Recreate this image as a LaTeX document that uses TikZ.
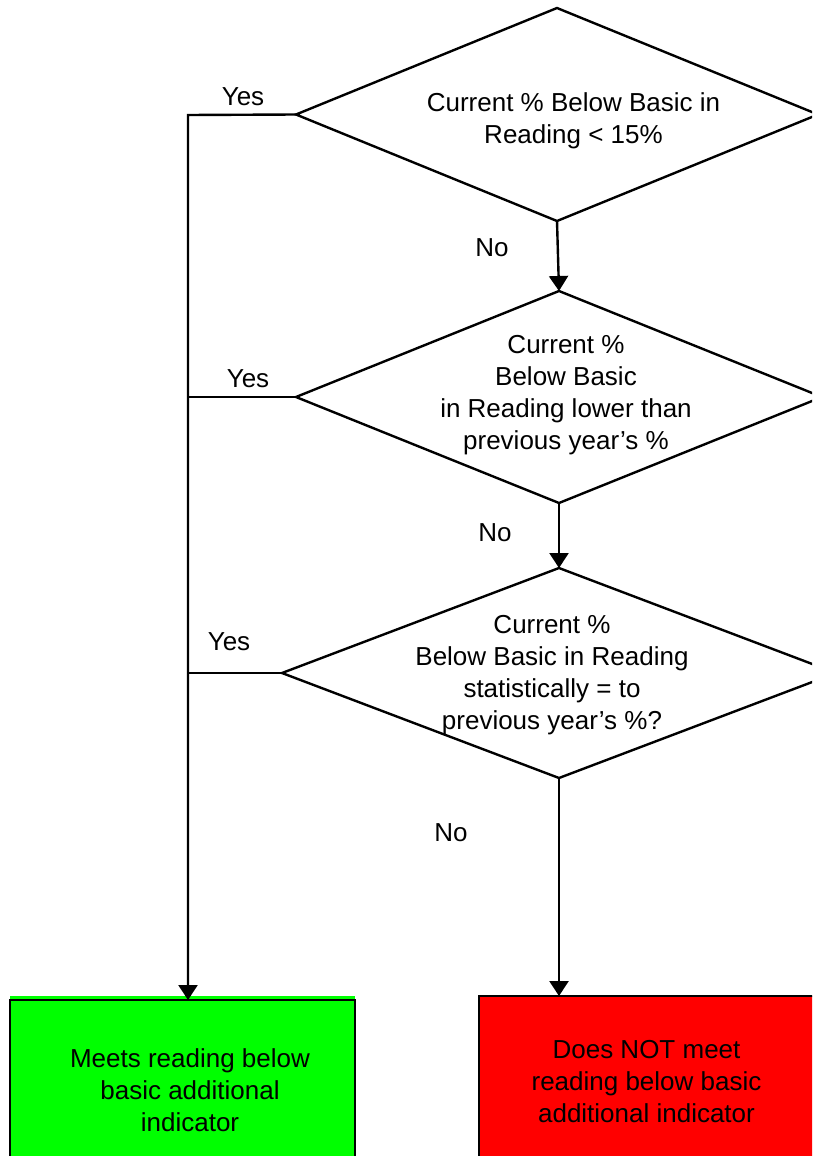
\documentclass[tikz,border=0pt]{standalone}
\usepackage{fontspec}
\setmainfont{Liberation Sans}
\usetikzlibrary{shapes.geometric,arrows.meta}
\definecolor{meetgreen}{RGB}{0,255,0}
\definecolor{failred}{RGB}{255,0,0}
\begin{document}
\begin{tikzpicture}[x=1pt,y=-1pt,
  every node/.style={font=\fontsize{26}{32}\selectfont},
  decision/.style={draw,diamond,line width=2.4pt,inner sep=0pt,outer sep=0pt},
  txt/.style={align=center,inner sep=0pt},
  result/.style={draw,rectangle,line width=2.4pt,inner sep=0pt,outer sep=0pt,align=center},
  link/.style={line width=2.4pt},
  flow/.style={line width=2.4pt,-{Triangle[width=19pt,length=15pt]}}]
\clip (0,0) rectangle (812,1156);
\useasboundingbox (0,0) rectangle (812,1156);
\node[decision,minimum width=522,minimum height=213] (ask1) at (557,114.5) {};
\node[txt] (ask1text) at (573.5,121) {Current \% Below Basic in\\Reading < 15\%};
\node[decision,minimum width=526,minimum height=212] (ask2) at (559,397) {};
\node[txt] (ask2text) at (566,395) {Current \%\\Below Basic\\in Reading lower than\\previous year's \%};
\node[decision,minimum width=554,minimum height=210] (ask3) at (559,673) {};
\node[txt] (ask3text) at (552,675) {Current \%\\Below Basic in Reading\\statistically = to\\previous year's \%?};
\fill[meetgreen] (10,996) rectangle (355,1001);
\node[result,fill=meetgreen,minimum width=345,minimum height=180] (meets) at (182.5,1090) {};
\node[txt] (meetstext) at (190,1090) {Meets reading below\\basic additional\\indicator};
\node[result,fill=failred,minimum width=335,minimum height=172] (notmeet) at (646.5,1082) {Does NOT meet\\reading below basic\\additional indicator};
\coordinate (bus) at (188,115);
\draw[flow] (ask1.west) -- (bus) -- (bus |- meets.north);
\draw[link] (ask2.west) -- (bus |- ask2.west);
\draw[link] (ask3.west) -- (bus |- ask3.west);
\draw[flow] (ask1.south) -- (ask2.north);
\draw[flow] (ask2.south) -- (ask3.north);
\draw[flow] (ask3.south) -- (ask3.south |- notmeet.north);
\node (yes1) at (243,97) {Yes};
\node (yes2) at (248,379) {Yes};
\node (yes3) at (229,642) {Yes};
\node (no1) at (492,248) {No};
\node (no2) at (495,533) {No};
\node (no3) at (451,833) {No};
\end{tikzpicture}
\end{document}
